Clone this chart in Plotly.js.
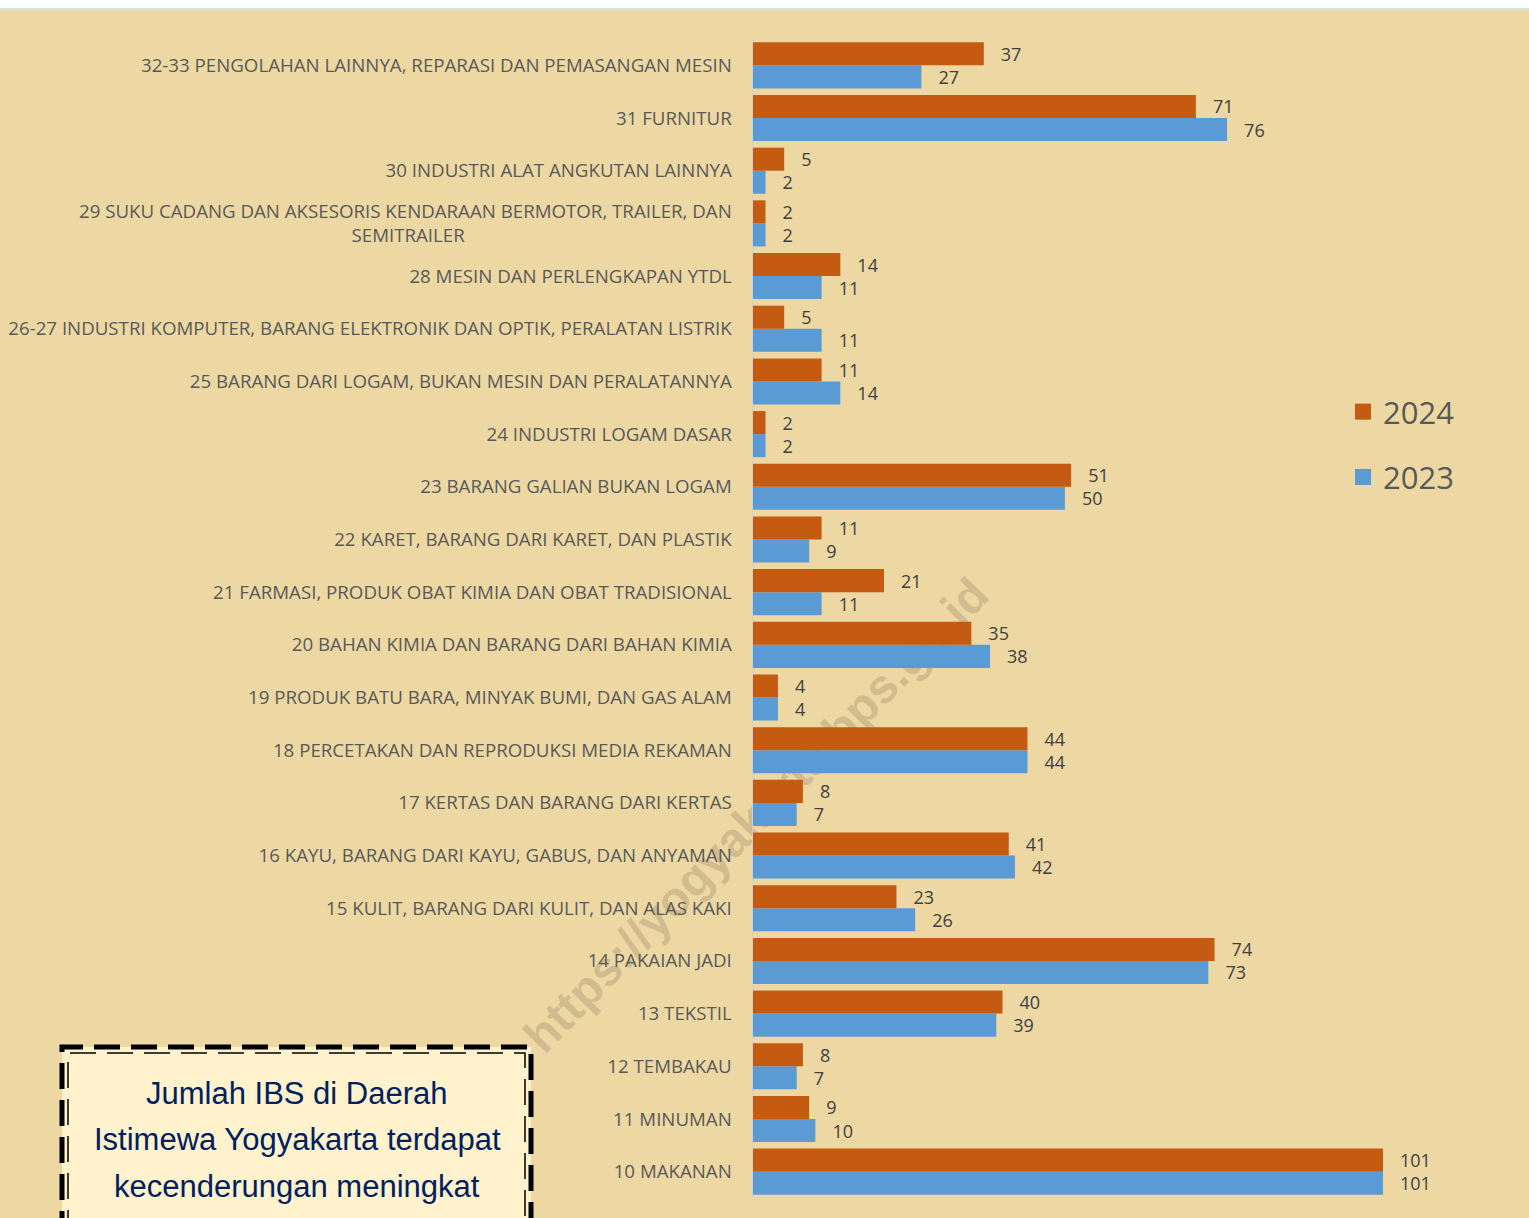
<!DOCTYPE html>
<html><head><meta charset="utf-8">
<script src="https://cdn.plot.ly/plotly-3.0.1.min.js"></script>
<style>html,body{margin:0;padding:0;background:#EDD8A3;}</style>
</head><body>
<div id="chart" style="width:1529px;height:1218px;"></div>
<script>
const categories = [
  "10 MAKANAN",
  "11 MINUMAN",
  "12 TEMBAKAU",
  "13 TEKSTIL",
  "14 PAKAIAN JADI",
  "15 KULIT, BARANG DARI KULIT, DAN ALAS KAKI",
  "16 KAYU, BARANG DARI KAYU, GABUS, DAN ANYAMAN",
  "17 KERTAS DAN BARANG DARI KERTAS",
  "18 PERCETAKAN DAN REPRODUKSI MEDIA REKAMAN",
  "19 PRODUK BATU BARA, MINYAK BUMI, DAN GAS ALAM",
  "20 BAHAN KIMIA DAN BARANG DARI BAHAN KIMIA",
  "21 FARMASI, PRODUK OBAT KIMIA DAN OBAT TRADISIONAL",
  "22 KARET, BARANG DARI KARET, DAN PLASTIK",
  "23 BARANG GALIAN BUKAN LOGAM",
  "24 INDUSTRI LOGAM DASAR",
  "25 BARANG DARI LOGAM, BUKAN MESIN DAN PERALATANNYA",
  "26-27 INDUSTRI KOMPUTER, BARANG ELEKTRONIK DAN OPTIK, PERALATAN LISTRIK",
  "28 MESIN DAN PERLENGKAPAN YTDL",
  "29 SUKU CADANG DAN AKSESORIS KENDARAAN BERMOTOR, TRAILER, DAN|SEMITRAILER",
  "30 INDUSTRI ALAT ANGKUTAN LAINNYA",
  "31 FURNITUR",
  "32-33 PENGOLAHAN LAINNYA, REPARASI DAN PEMASANGAN MESIN"
];
const values2024 = [101, 9, 8, 40, 74, 23, 41, 8, 44, 4, 35, 21, 11, 51, 2, 11, 5, 14, 2, 5, 71, 37];
const values2023 = [101, 10, 7, 39, 73, 26, 42, 7, 44, 4, 38, 11, 9, 50, 2, 14, 11, 11, 2, 2, 76, 27];
const seriesNames = ["2024", "2023"];
const boxLines = ["Jumlah IBS di Daerah", "Istimewa Yogyakarta terdapat", "kecenderungan meningkat"];
const watermark = "https://yogyakarta.bps.go.id";

const W = 1529, H = 1218, L = 753, T = 39, B = 20;
const plotW = W - L, plotH = H - T - B;
const pxPerUnit = 630 / 101;
const xMax = plotW / pxPerUnit;
const px = x => (x - L) / plotW;
const py = y => (H - B - y) / plotH;

const NB = '\u00A0';
const tickText = categories.map(c => {
  if (c.indexOf('|') >= 0) {
    const parts = c.split('|');
    return parts[0] + '<br>' + parts[1] + NB.repeat(55);
  }
  return c;
});
const ids = categories.map((c, i) => 'c' + i);

const labelFont = {family: 'Open Sans, Noto Sans, sans-serif', size: 18, color: '#404040'};
const C24 = '#C55A11', C23 = '#5B9BD5';

const t2023 = {
  type: 'bar', orientation: 'h', name: seriesNames[1], showlegend: false,
  y: ids, x: values2023,
  marker: {color: C23},
  text: values2023.map(v => NB.repeat(3) + v), textposition: 'outside', constraintext: 'none',
  textfont: labelFont, cliponaxis: false, hoverinfo: 'x'
};
const t2024 = {
  type: 'bar', orientation: 'h', name: seriesNames[0], showlegend: false,
  y: ids, x: values2024,
  marker: {color: C24},
  text: values2024.map(v => NB.repeat(3) + v), textposition: 'outside', constraintext: 'none',
  textfont: labelFont, cliponaxis: false, hoverinfo: 'x'
};
const l2024 = {type: 'scatter', mode: 'markers', name: seriesNames[0], x: [null], y: [null],
  marker: {symbol: 'square', size: 20, color: C24}, legendgroup: 'a', legendrank: 1};
const l2023 = {type: 'scatter', mode: 'markers', name: seriesNames[1], x: [null], y: [null],
  marker: {symbol: 'square', size: 20, color: C23}, legendgroup: 'b', legendrank: 2};

const shapes = [
  {type: 'line', xref: 'paper', yref: 'paper', x0: px(545), y0: py(1066), x1: px(1002), y1: py(598),
   line: {color: 'rgba(0,0,0,0)', width: 0}, layer: 'below',
   label: {text: watermark, textposition: 'middle', textangle: 'auto',
     font: {family: 'Liberation Sans, Arial, sans-serif', size: 48, weight: 'bold', color: 'rgba(125,105,85,0.26)'}}},
  {type: 'rect', xref: 'paper', yref: 'paper', x0: px(0), x1: px(W), y0: py(9), y1: py(-2),
   fillcolor: '#FFFFFF', line: {width: 0}, layer: 'above'},
  {type: 'line', xref: 'paper', yref: 'paper', x0: px(0), x1: px(W), y0: py(9), y1: py(9),
   line: {color: '#D9E2EA', width: 2}, layer: 'above'},
  {type: 'rect', xref: 'paper', yref: 'paper', x0: px(62), x1: px(531), y0: py(1240), y1: py(1047),
   fillcolor: '#FFF2CC', line: {color: '#000000', width: 5, dash: '26px,11px'}, layer: 'above'},
  {type: 'rect', xref: 'paper', yref: 'paper', x0: px(68), x1: px(525), y0: py(1240), y1: py(1053),
   fillcolor: 'rgba(0,0,0,0)', line: {color: '#000000', width: 1.5, dash: '26px,11px'}, layer: 'above'}
];

const annotations = boxLines.map((t, i) => ({
  xref: 'paper', yref: 'paper', x: px(297), y: py(1093 + i * 46.5),
  text: t, showarrow: false, xanchor: 'center', yanchor: 'middle',
  font: {family: 'Liberation Sans, Arial, sans-serif', size: 31, color: '#002060'}
}));

const layout = {
  width: W, height: H,
  margin: {l: L, r: 0, t: T, b: B, pad: 0},
  paper_bgcolor: '#EDD8A3', plot_bgcolor: 'rgba(0,0,0,0)',
  barmode: 'group', bargap: 0.125, bargroupgap: 0,
  showlegend: true,
  legend: {x: px(1343), y: py(385), xanchor: 'left', yanchor: 'top',
    font: {family: 'Open Sans, Noto Sans, sans-serif', size: 31, color: '#595959'},
    bgcolor: 'rgba(0,0,0,0)', itemwidth: 30, tracegroupgap: 22, itemsizing: 'trace'},
  xaxis: {range: [0, xMax], showgrid: false, zeroline: false, showticklabels: false,
    showline: false, fixedrange: true},
  yaxis: {type: 'category', categoryorder: 'array', categoryarray: ids,
    tickmode: 'array', tickvals: ids, ticktext: tickText,
    range: [-0.5, categories.length - 0.5],
    showgrid: false, zeroline: false, showline: true, linecolor: '#D0D0D0', linewidth: 1.5,
    ticks: '', ticklabelstandoff: 16,
    tickfont: {family: 'Open Sans, Noto Sans, sans-serif', size: 18.7, color: '#595959'}},
  shapes: shapes, annotations: annotations
};

Plotly.newPlot('chart', [t2023, t2024, l2024, l2023], layout, {displayModeBar: false, staticPlot: true});
</script>
</body></html>
